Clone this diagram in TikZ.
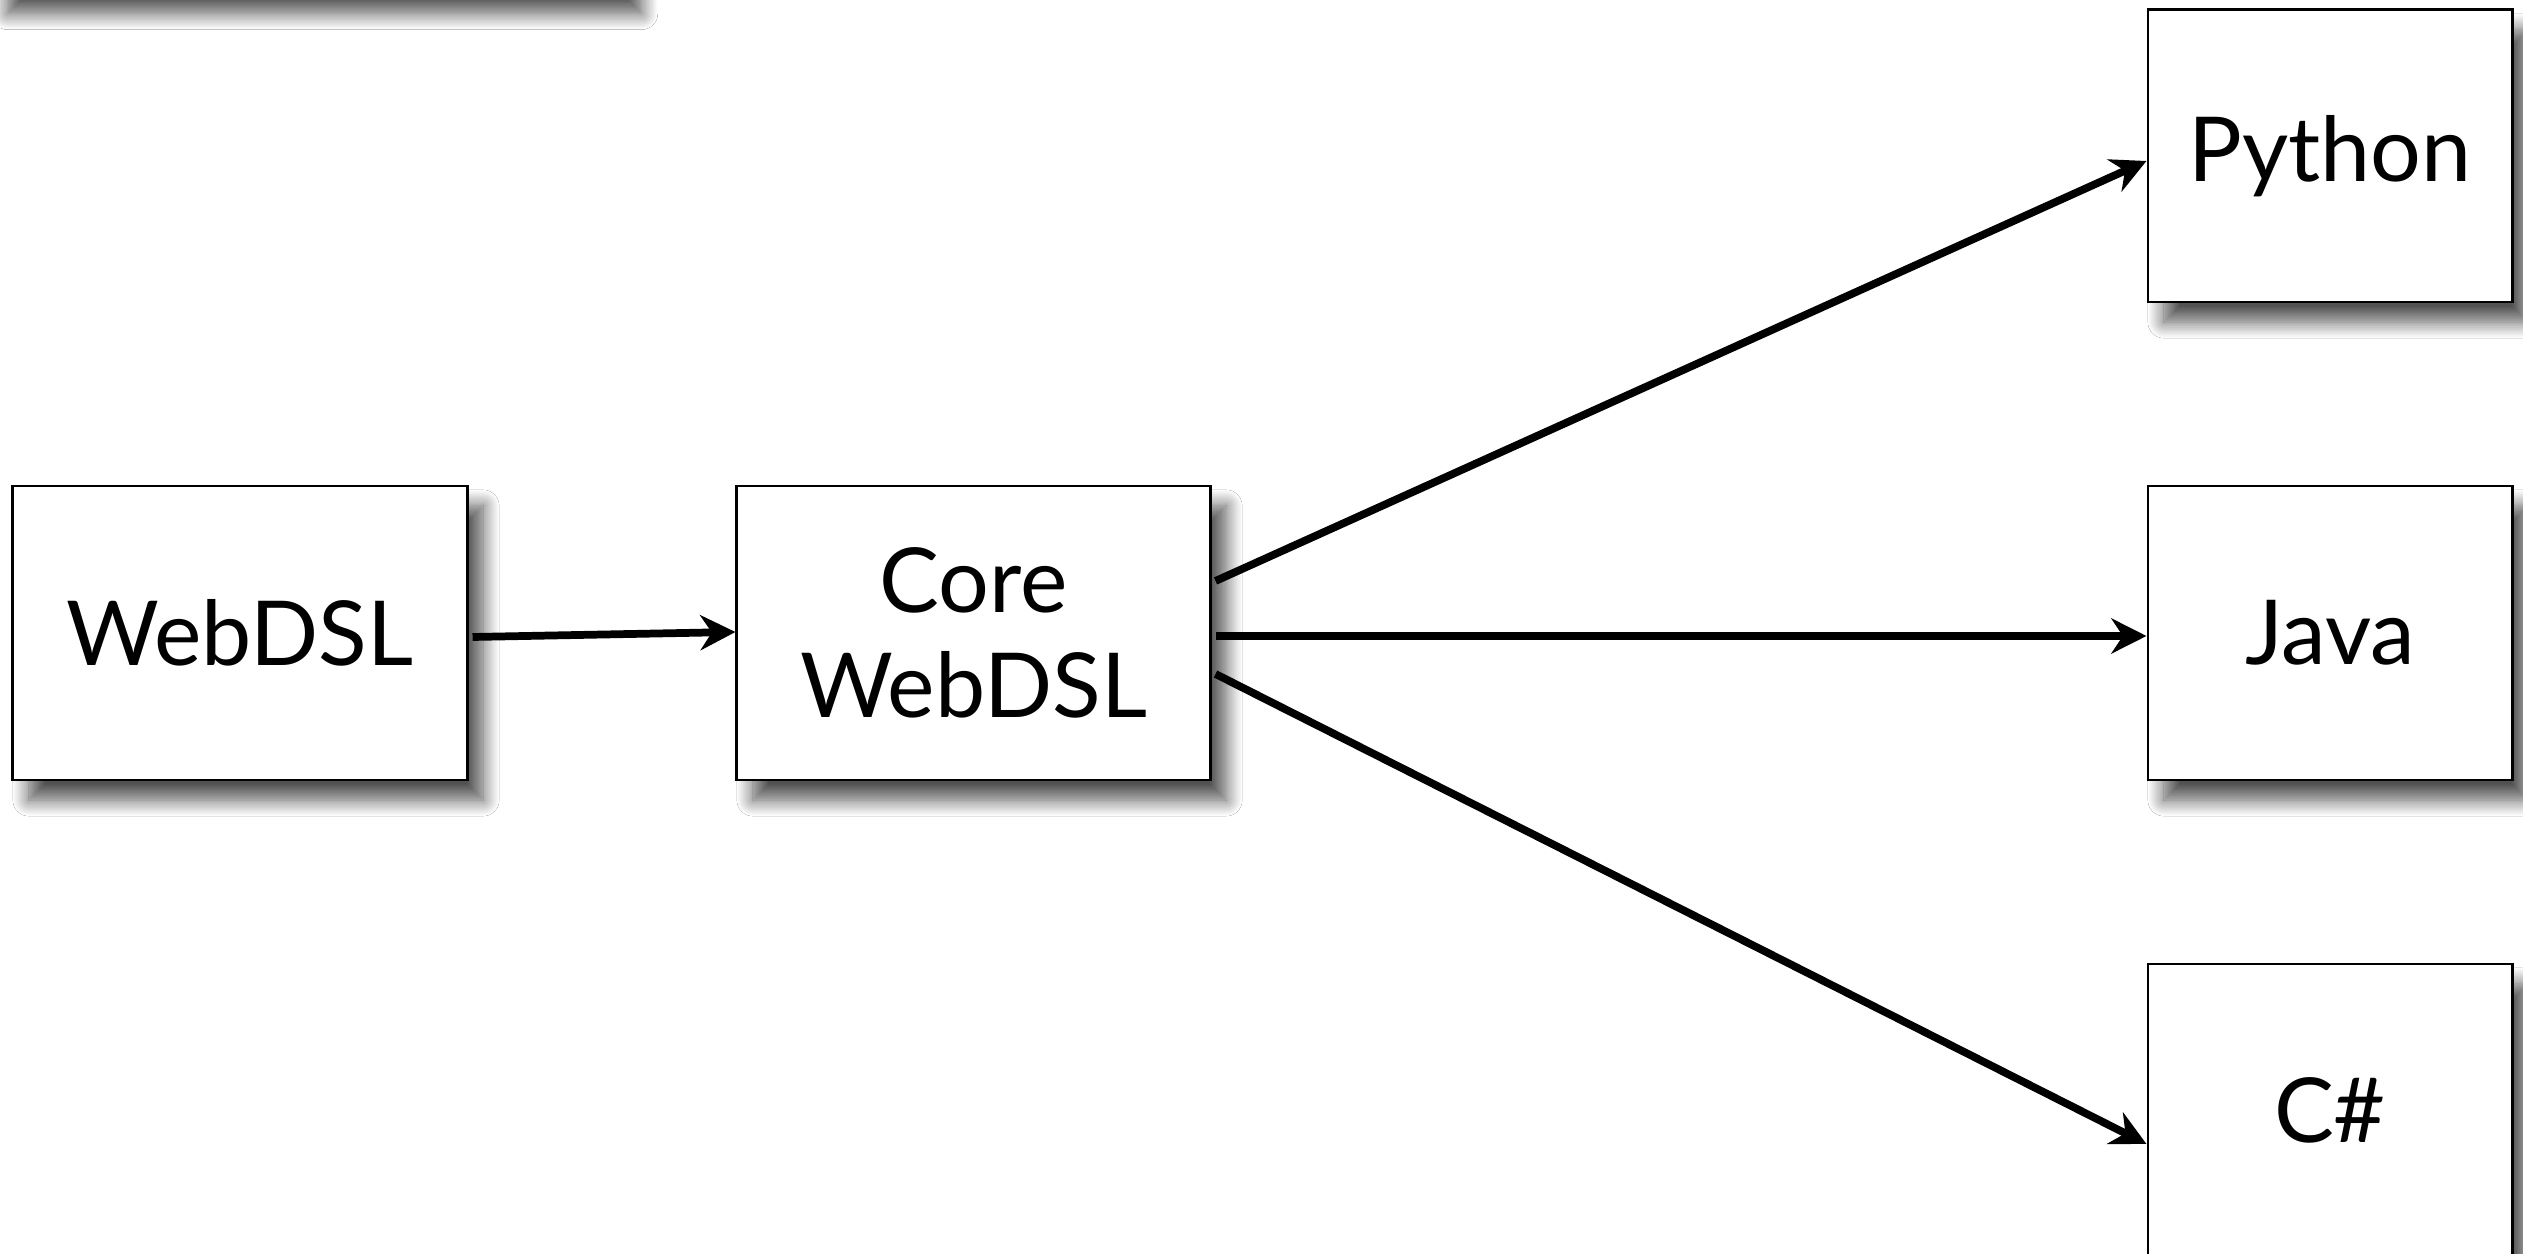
\documentclass[tikz,border=0pt]{standalone}
\usepackage{fontspec}
\setmainfont{Lato}
\usetikzlibrary{arrows.meta,shadows.blur,calc}
\begin{document}
\begin{tikzpicture}[x=0.01cm,y=0.01cm,
  box/.style={draw=black, line width=0.8pt, fill=white, inner sep=0pt,
    font=\fontsize{25.5}{30}\selectfont, align=center,
    blur shadow={shadow xshift=1.6mm, shadow yshift=-2mm, shadow blur radius=1.6mm, shadow blur steps=14, shadow opacity=68}},
  conn/.style={line width=2.2pt, -{Stealth[length=10pt, width=10pt, inset=3.3pt]}}]
\useasboundingbox (0,0) rectangle (2523,1254);
\clip (0,0) rectangle (2523,1254);
\fill[white] (0,0) rectangle (2523,1254);
% partial box above the frame
\node[box, minimum width=6.34cm, minimum height=3cm, anchor=south west] (top) at (-10,1259) {};
\node[box, minimum width=4.54cm, minimum height=2.94cm] (web) at (240,621) {WebDSL};
\node[box, minimum width=4.73cm, minimum height=2.94cm] (core) at (973.5,621) {Core\\WebDSL};
\node[box, minimum width=3.64cm, minimum height=2.92cm] (py) at (2330,1098) {Python};
\node[box, minimum width=3.64cm, minimum height=2.94cm] (java) at (2330,621) {Java};
\node[box, minimum width=3.64cm, minimum height=2.92cm] (cs) at (2330,144) {C\#};
\draw[conn] ([xshift=0.04cm,yshift=-0.04cm]web.east) -- ([yshift=0.01cm]core.west);
\draw[conn] ([xshift=0.04cm,yshift=0.52cm]core.east) -- ([yshift=-0.05cm]py.west);
\draw[conn] ([xshift=0.04cm,yshift=-0.03cm]core.east) -- ([yshift=-0.03cm]java.west);
\draw[conn] ([xshift=0.04cm,yshift=-0.41cm]core.east) -- ([yshift=-0.34cm]cs.west);
\end{tikzpicture}
\end{document}
